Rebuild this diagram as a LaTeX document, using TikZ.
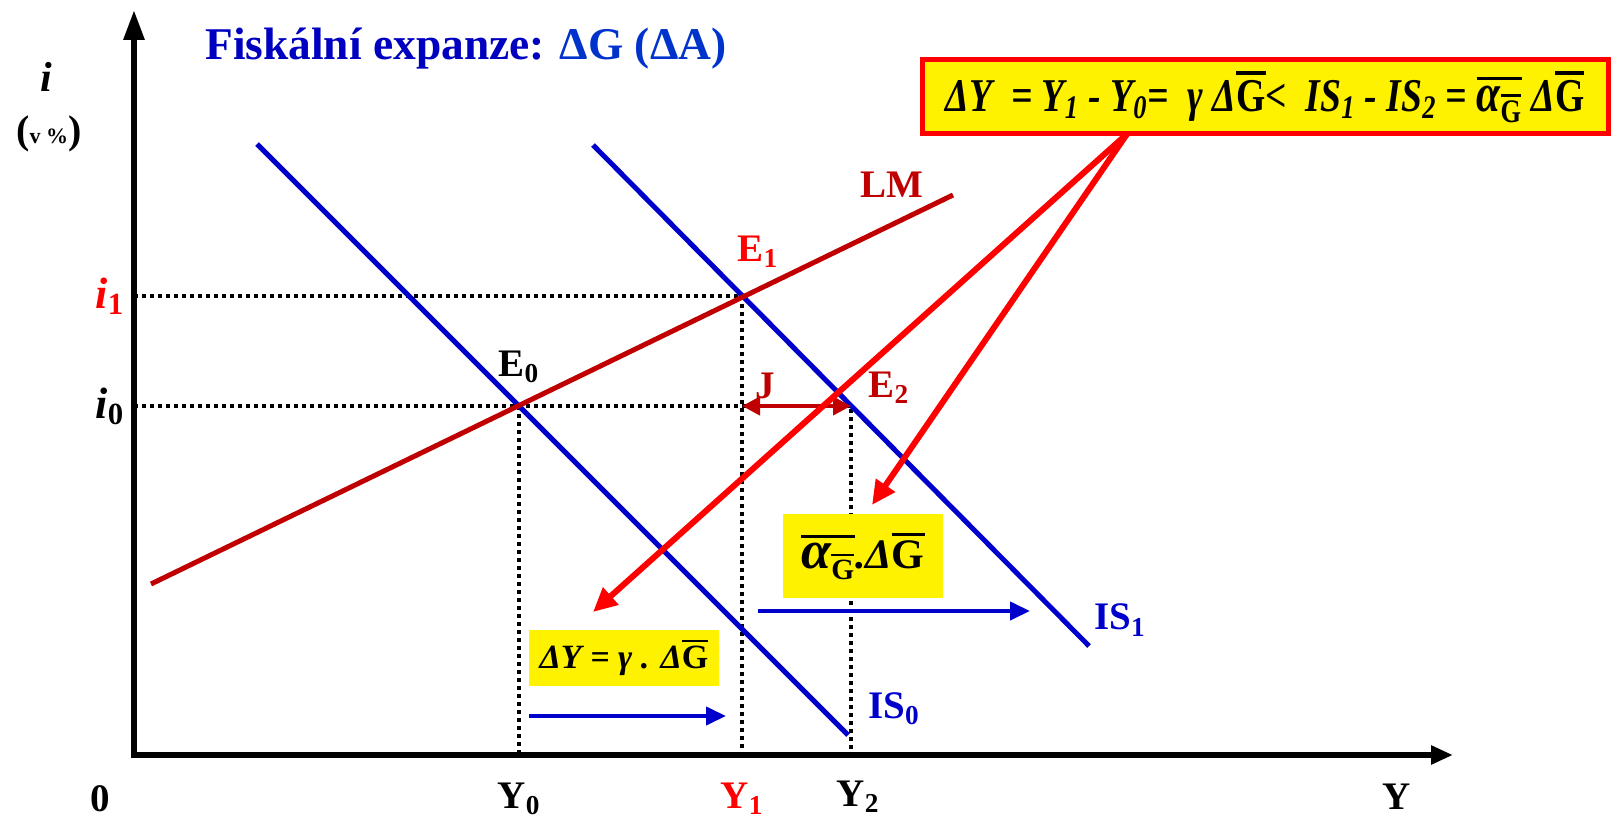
\documentclass[tikz,border=0pt]{standalone}
\usepackage{fontspec}
\setmainfont{Liberation Serif}
\newfontfamily\narrowserif[FakeStretch=0.8]{Liberation Serif}
\usepackage{tikz}
\usetikzlibrary{positioning}
\usepackage{xcolor}
\usetikzlibrary{positioning, arrows.meta}

\definecolor{isblue}{RGB}{0,0,204}
\definecolor{lmred}{RGB}{192,0,0}
\definecolor{titleblue}{RGB}{0,0,192}
\definecolor{deltablue}{RGB}{0,51,204}

\newcommand{\barred}[1]{\leavevmode\vbox{\hrule height .07em\kern .12em\hbox{#1}}}
\newcommand{\Gb}{\barred{\upshape G}}
\newcommand{\alG}[1]{\barred{{\fontsize{#1}{#1}\selectfont α}\textsubscript{\Gb}}}

\begin{document}
\begin{tikzpicture}[
      x=0.5pt, y=-0.5pt,
      every node/.style={inner sep=0pt, font=\bfseries\fontsize{19.5}{22}\selectfont},
      axis/.style={line width=3pt, {Triangle[length=15pt,width=10pt]}-{Triangle[length=11pt,width=9pt]}},
      curve/.style={line width=2.5pt},
      guide/.style={line width=2pt, dash pattern=on 2pt off 2pt},
      shiftarrow/.style={isblue, line width=2pt, -{Triangle[length=10pt,width=9pt]}},
      pointer/.style={red, line width=3pt, -{Triangle[length=12pt,width=11pt]}},
      formula/.style={fill=yellow, font=\bfseries\itshape\fontsize{17}{19}\selectfont}
    ]
    \useasboundingbox (0,0) rectangle (1611,824);

    \coordinate (O) at (134,755);
    \coordinate (ytip) at (134,10);
    \coordinate (xtip) at (1453,755);
    \coordinate (E0) at (519,406);
    \coordinate (E1) at (742,296);
    \coordinate (E2) at (851,406);

    % dotted guides
    \draw[guide] (O |- E1) -- (E1) -- (E1 |- O);
    \draw[guide] (O |- E0) -- (E2) -- (E2 |- O);
    \draw[guide] (E0) -- (E0 |- O);

    \draw[axis] (ytip) -- (O) -- (xtip);

    % IS and LM
    \coordinate (is0a) at (257,144);
    \coordinate (is0b) at (848,735);
    \coordinate (is1a) at (593,145);
    \coordinate (is1b) at (1089,646);
    \coordinate (lma) at (151,584);
    \coordinate (lmb) at (953,195);
    \draw[curve, isblue] (is0a) -- (is0b);
    \draw[curve, isblue] (is1a) -- (is1b);
    \draw[curve, lmred] (lma) -- (lmb);

    \draw[lmred, line width=2pt, {Triangle[length=9pt,width=9pt]}-{Triangle[length=9pt,width=9pt]}] (E1 |- E0) -- (E2);

    % labels
    \node (title) [anchor=west, font=\bfseries\fontsize{22.7}{26}\selectfont] at (205,49)
      {\textcolor{titleblue}{Fiskální expanze:} \textcolor{deltablue}{ΔG (ΔA)}};
    \node (ilab) [font=\bfseries\itshape\fontsize{21}{24}\selectfont] at (46,77) {i};
    \node (unit) at (49,134) {{\fontsize{20}{22}\selectfont(}{\fontsize{11}{12}\selectfont v \%}{\fontsize{20}{22}\selectfont)}};
    \node (i1) [red] at (110,296) {\fontsize{22}{24}\selectfont\textit{i}\textsubscript{1}};
    \node (i0) at (110,406) {\fontsize{22}{24}\selectfont\textit{i}\textsubscript{0}};
    \node (zero) at (100,799) {0};
    \node (y0) at (519,799) {Y\textsubscript{0}};
    \node (y1) [red] at (742,799) {Y\textsubscript{1}};
    \node (y2) at (858,797) {Y\textsubscript{2}};
    \node (ylab) at (1397,797) {Y};
    \node (lm) [lmred] at (892,185) {LM};
    \node (e1) [red] at (758,252) {E\textsubscript{1}};
    \node (e0) at (519,367) {E\textsubscript{0}};
    \node (e2) [lmred] at (889,388) {E\textsubscript{2}};
    \node (j) [lmred] at (765,386) {J};
    \node (is1) [isblue] at (1120,620) {IS\textsubscript{1}};
    \node (is0) [isblue] at (894,709) {IS\textsubscript{0}};

    % shifts
    \coordinate (s1a) at (758,611);
    \coordinate (s1b) at (1030,611);
    \coordinate (s0a) at (529,716);
    \coordinate (s0b) at (726,716);
    \draw[shiftarrow] (s1a) -- (s1b);
    \draw[shiftarrow] (s0a) -- (s0b);

    % formulas
    \node (total) [formula, draw=red, line width=2.5pt, minimum width=343pt, minimum height=37pt,
      font=\narrowserif\bfseries\itshape\fontsize{23.5}{25}\selectfont] at (1265,97)
      {ΔY \ = Y\textsubscript{1} - Y\textsubscript{0}= \ γ Δ\Gb< \ IS\textsubscript{1} - IS\textsubscript{2} = \alG{27} Δ\Gb};
    \node (full) [formula, minimum width=80pt, minimum height=42pt,
      font=\bfseries\itshape\fontsize{21}{23}\selectfont] at (863,556) {\alG{27}.Δ\Gb};
    \node (part) [formula, minimum width=95pt, minimum height=28pt] at (624,658) {ΔY = γ . Δ\Gb};

    \coordinate (fork) at (1127,134);
    \coordinate (tipa) at (593,612);
    \coordinate (tipb) at (872,505);
    \draw[pointer] (fork) -- (tipa);
    \draw[pointer] (fork) -- (tipb);
  \end{tikzpicture}
\end{document}
